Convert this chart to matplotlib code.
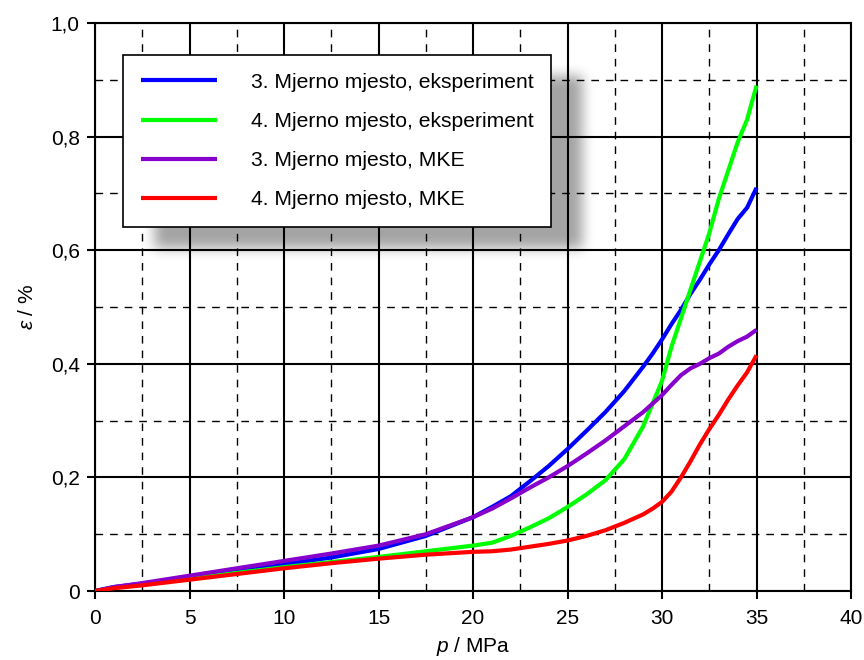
import numpy as np
import matplotlib
matplotlib.use("Agg")
import matplotlib.pyplot as plt
from matplotlib.ticker import MultipleLocator, FuncFormatter

plt.rcParams['font.family'] = ['Liberation Sans', 'DejaVu Sans']
plt.rcParams['mathtext.fontset'] = 'custom'
plt.rcParams['mathtext.it'] = 'Liberation Sans:italic'
plt.rcParams['mathtext.rm'] = 'Liberation Sans'

# pressure p / MPa
p = [0, 1, 2.5, 5, 7.5, 10, 12.5, 15, 17.5, 20, 21, 22, 23, 24, 25, 26, 27, 28,
     29, 29.5, 30, 30.5, 31, 31.5, 32, 32.5, 33, 33.5, 34, 34.5, 35]

# strain eps / %
exp_3 = [0, 0.007, 0.013, 0.025, 0.036, 0.047, 0.059, 0.074, 0.097, 0.13, 0.148,
         0.167, 0.193, 0.22, 0.25, 0.282, 0.315, 0.352, 0.395, 0.418, 0.443, 0.47,
         0.495, 0.523, 0.548, 0.575, 0.6, 0.628, 0.655, 0.675, 0.71]
exp_4 = [0, 0.006, 0.012, 0.022, 0.032, 0.042, 0.051, 0.06, 0.07, 0.08, 0.085,
         0.097, 0.112, 0.128, 0.148, 0.17, 0.195, 0.232, 0.29, 0.33, 0.37, 0.43,
         0.48, 0.53, 0.58, 0.63, 0.69, 0.74, 0.79, 0.83, 0.89]
mke_3 = [0, 0.007, 0.014, 0.027, 0.04, 0.053, 0.066, 0.08, 0.1, 0.13, 0.145,
         0.163, 0.182, 0.2, 0.22, 0.242, 0.265, 0.29, 0.315, 0.33, 0.345, 0.363,
         0.38, 0.392, 0.4, 0.41, 0.418, 0.43, 0.44, 0.448, 0.46]
mke_4 = [0, 0.005, 0.01, 0.02, 0.03, 0.04, 0.049, 0.057, 0.064, 0.069, 0.07,
         0.073, 0.078, 0.083, 0.089, 0.097, 0.107, 0.12, 0.135, 0.145, 0.157,
         0.175, 0.2, 0.228, 0.258, 0.285, 0.31, 0.337, 0.362, 0.385, 0.415]

labels = ["3. Mjerno mjesto, eksperiment",
          "4. Mjerno mjesto, eksperiment",
          "3. Mjerno mjesto, MKE",
          "4. Mjerno mjesto, MKE"]
colors = ["#0000ff", "#00ff00", "#8800cc", "#ff0000"]

fig = plt.figure(figsize=(8.64, 6.6), dpi=100)
ax = fig.add_axes([0.110, 0.1045, 0.875, 0.8605])

for y, lab, c in zip([exp_3, exp_4, mke_3, mke_4], labels, colors):
    ax.plot(p, y, color=c, lw=3, label=lab, zorder=3, solid_capstyle='butt')

ax.xaxis.set_major_locator(MultipleLocator(5))
ax.xaxis.set_minor_locator(MultipleLocator(2.5))
ax.yaxis.set_major_locator(MultipleLocator(0.2))
ax.yaxis.set_minor_locator(MultipleLocator(0.1))
ax.yaxis.set_major_formatter(FuncFormatter(
    lambda v, _: "0" if abs(v) < 1e-9 else f"{v:.1f}".replace(".", ",")))

ax.grid(which='major', color='black', lw=1.5, zorder=1)
ax.grid(which='minor', color='black', lw=1.0, ls=(0, (5.5, 5)), zorder=1)
ax.set_axisbelow(True)
for s in ax.spines.values():
    s.set_linewidth(1.5)
ax.tick_params(which='major', direction='out', length=6, width=1.5, labelsize=15)
ax.tick_params(axis='x', pad=7)
ax.tick_params(axis='y', pad=5)
ax.tick_params(which='minor', length=0)

ax.set_xlabel("$\\it{p}$ / MPa", fontsize=15, labelpad=5)
ax.set_ylabel("$\\it{\\varepsilon}$ / %", fontsize=15, labelpad=10)

leg = ax.legend(loc='upper left', bbox_to_anchor=(0.037, 0.944), borderaxespad=0,
                fontsize=15.2, handlelength=3.6, handletextpad=1.6,
                labelspacing=0.95, borderpad=0.85, fancybox=False, framealpha=1,
                edgecolor='black')
leg.get_frame().set_linewidth(1.2)
leg.set_zorder(6)

ax.set_xlim(0, 40)
ax.set_ylim(0, 1.0)

# soft drop shadow behind the legend (blurred rectangle, drawn in the axes)
fig.canvas.draw()
bb = leg.get_window_extent()
off_x, off_y, margin = 30, -20, 45
w = int(bb.width) + 2 * margin
h = int(bb.height) + 2 * margin
mask = np.zeros((h, w))
mask[margin:h - margin, margin:w - margin] = 1.0
k = np.ones(12) / 12
for _ in range(3):
    mask = np.apply_along_axis(lambda r: np.convolve(r, k, mode='same'), 1, mask)
    mask = np.apply_along_axis(lambda c: np.convolve(c, k, mode='same'), 0, mask)
rgba = np.zeros((h, w, 4))
rgba[..., 3] = 0.36 * mask
inv = ax.transData.inverted()
(x0, y0) = inv.transform((bb.x0 + off_x - margin, bb.y0 + off_y - margin))
(x1, y1) = inv.transform((bb.x0 + off_x - margin + w, bb.y0 + off_y - margin + h))
ax.imshow(rgba, extent=(x0, x1, y0, y1), aspect='auto', zorder=4,
          interpolation='bilinear')
ax.set_xlim(0, 40)
ax.set_ylim(0, 1.0)

fig.savefig("out.png", dpi=100)
